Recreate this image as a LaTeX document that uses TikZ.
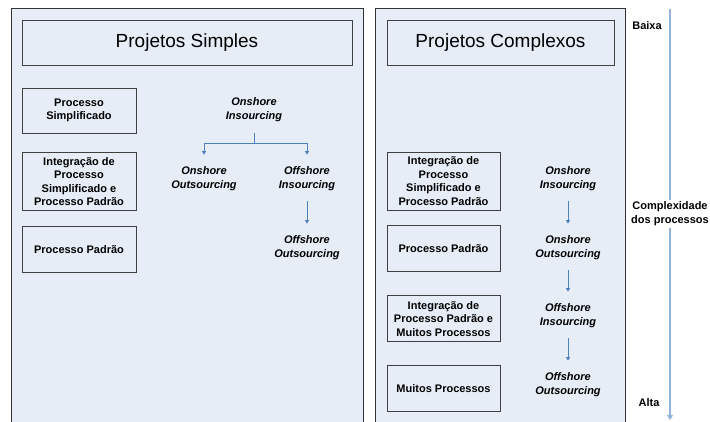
\documentclass[tikz,border=0pt]{standalone}
\usepackage{fontspec}
\setmainfont{Liberation Sans}
\usetikzlibrary{arrows.meta, positioning}
\definecolor{panelblue}{RGB}{231,237,247}
\definecolor{linkblue}{RGB}{79,129,189}
\definecolor{axisblue}{RGB}{149,179,215}

\begin{document}
\begin{tikzpicture}[
    x=1pt, y=-1pt,
    panel/.style={rectangle, draw=black!80, line width=1pt, fill=panelblue,
                  minimum height=422pt, inner sep=0pt},
    titlebox/.style={rectangle, draw=black!75, line width=0.8pt,
                     minimum height=45pt, inner sep=0pt,
                     font=\fontsize{19}{22}\selectfont},
    box/.style={rectangle, draw=black!75, line width=0.8pt, minimum width=114pt,
                inner sep=0pt, align=center,
                font=\bfseries\fontsize{11}{13.5}\selectfont},
    lbl/.style={align=center, inner sep=0pt,
                font=\bfseries\itshape\fontsize{11}{14}\selectfont},
    axlbl/.style={align=center, inner sep=0pt,
                  font=\bfseries\fontsize{11}{14}\selectfont},
    link/.style={line width=1pt, color=linkblue},
    arrow/.style={-{Triangle[width=4pt,length=3.5pt]}, line width=1pt,
                  color=linkblue, shorten <=10pt, shorten >=12pt},
    axis/.style={line width=1.6pt, color=axisblue}
  ]
    \clip (0,0) rectangle (710,421);

    % panels
    \node[panel, minimum width=352pt] (psimp) at (187,219) {};
    \node[panel, minimum width=250pt] (pcomp) at (500,219) {};

    \node[titlebox, minimum width=330pt] (tsimp) at (187,42.5) {Projetos Simples};
    \node[titlebox, minimum width=227pt] (tcomp) at (500.5,42.5) {Projetos Complexos};

    % simple projects
    \node[box, minimum height=45pt] (s1) at (79,110.5) {Processo\\Simplificado};
    \node[box, minimum height=58pt, below=19pt of s1] (s2)
         {Integração de\\Processo\\Simplificado e\\Processo Padrão};
    \node[box, minimum height=46pt, below=15pt of s2] (s3) {Processo Padrão};

    \node[lbl] (ins)  at (254,110) {Onshore\\Insourcing};
    \node[lbl] (lo1)  at (204,179) {Onshore\\Outsourcing};
    \node[lbl] (lo2)  at (307,179) {Offshore\\Insourcing};
    \node[lbl] (lo3)  at (307,248) {Offshore\\Outsourcing};
    \coordinate (split) at (254,143);

    \draw[link, shorten <=10.5pt] (ins) -- (split);
    \draw[arrow, shorten <=0pt] (split) -| (lo1);
    \draw[arrow, shorten <=0pt] (split) -| (lo2);
    \draw[arrow] (lo2) -- (lo3);

    % complex projects
    \node[box, minimum width=113pt, minimum height=58pt] (c1) at (443.5,181)
         {Integração de\\Processo\\Simplificado e\\Processo Padrão};
    \node[box, minimum width=113pt, minimum height=46pt, below=15pt of c1] (c2)
         {Processo Padrão};
    \node[box, minimum width=113pt, minimum height=46pt, below=23pt of c2] (c3)
         {Integração de\\Processo Padrão e\\Muitos Processos};
    \node[box, minimum width=113pt, minimum height=46pt, below=23pt of c3] (c4)
         {Muitos Processos};

    \node[lbl] (r1) at (568,179) {Onshore\\Insourcing};
    \node[lbl] (r2) at (568,248) {Onshore\\Outsourcing};
    \node[lbl] (r3) at (568,316) {Offshore\\Insourcing};
    \node[lbl] (r4) at (568,385) {Offshore\\Outsourcing};
    \draw[arrow] (r1) -- (r2);
    \draw[arrow] (r2) -- (r3);
    \draw[arrow] (r3) -- (r4);

    % complexity axis
    \node[axlbl] (baixa) at (647,26) {Baixa};
    \node[axlbl] (alta)  at (649,403) {Alta};
    \node[axlbl] (cplx)  at (670,214) {Complexidade\\dos processos};
    \coordinate (axtop) at (670,9);
    \coordinate (axbot) at (670,420);
    \draw[axis, shorten >=2pt] (axtop) -- (cplx);
    \draw[axis, shorten <=2pt, -{Triangle[width=6pt,length=5pt]}] (cplx) -- (axbot);
  \end{tikzpicture}
\end{document}
